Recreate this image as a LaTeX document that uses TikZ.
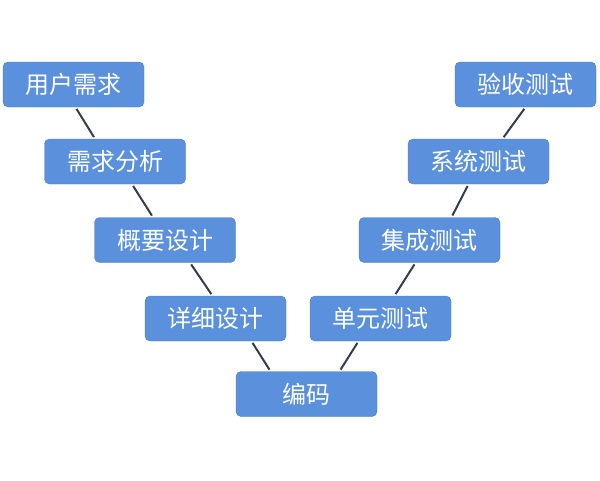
\documentclass[tikz,border=0pt]{standalone}
\usepackage{fontspec}
\newfontfamily\cjk{Noto Sans CJK SC}
\usepackage{xcolor}
\usepackage{tikz}

\definecolor{boxblue}{HTML}{5B91DC}
\definecolor{boxedge}{HTML}{4A7DC6}
\definecolor{linkgray}{HTML}{343C4E}

\begin{document}
\begin{tikzpicture}[x=1pt, y=-1pt,
                    stage/.style={draw=boxedge, fill=boxblue, rounded corners=5pt,
                                  minimum width=141pt, minimum height=45pt, inner sep=0pt,
                                  text=white, font=\cjk\fontsize{24}{26}\selectfont},
                    link/.style={draw=linkgray, line width=2pt,
                                 shorten >=2pt, shorten <=2pt}]
  \useasboundingbox (0,0) rectangle (600,480);
  % left leg
  \node[stage] (req)  at (73.5,84.5) {用户需求};
  \node[stage] (ana)  at (115,161.5) {需求分析};
  \node[stage] (arch) at (165,240)   {概要设计};
  \node[stage] (det)  at (215.5,318.5) {详细设计};
  % bottom
  \node[stage] (code) at (306.5,394) {编码};
  % right leg
  \node[stage] (unit) at (380.5,318.5) {单元测试};
  \node[stage] (intg) at (429.5,240)   {集成测试};
  \node[stage] (sys)  at (478.5,161.5) {系统测试};
  \node[stage] (acc)  at (525.5,84.5)  {验收测试};

  \draw[link] ([xshift=2pt]req.south)   -- ([xshift=-20pt]ana.north);
  \draw[link] ([xshift=17pt]ana.south)  -- ([xshift=-12pt]arch.north);
  \draw[link] ([xshift=25pt]arch.south) -- ([xshift=-3pt]det.north);
  \draw[link] ([xshift=36pt]det.south)  -- ([xshift=-36pt]code.north);
  \draw[link] ([xshift=33pt]code.north) -- ([xshift=-22pt]unit.south);
  \draw[link] ([xshift=14pt]unit.north) -- ([xshift=-14pt]intg.south);
  \draw[link] ([xshift=22pt]intg.north) -- ([xshift=-10pt]sys.south);
  \draw[link] ([xshift=24pt]sys.north)  -- ([xshift=0pt]acc.south);
\end{tikzpicture}
\end{document}
